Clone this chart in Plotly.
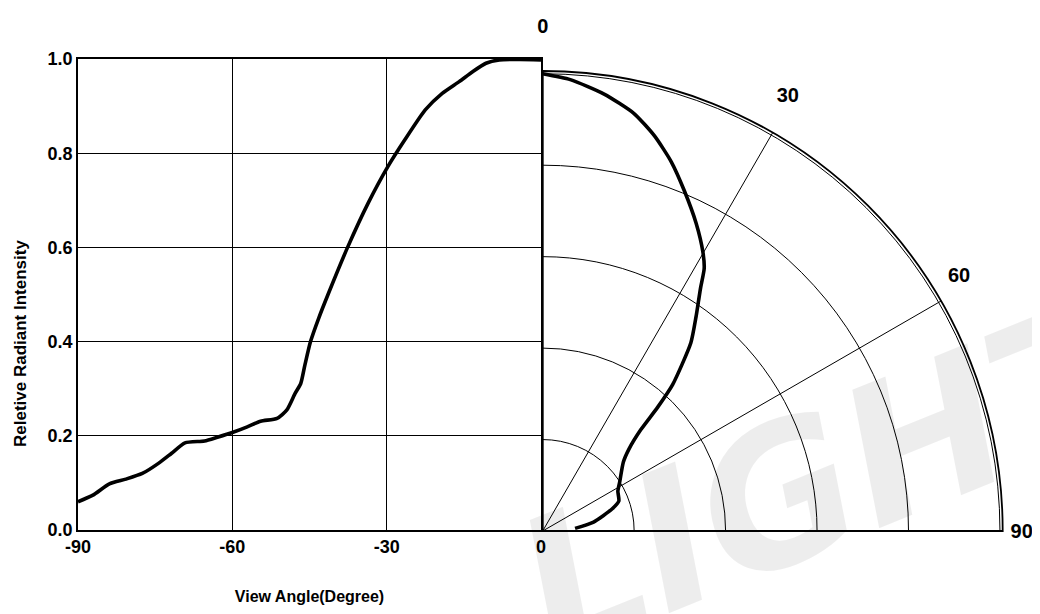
import plotly.graph_objects as go

# ---- data: left (Cartesian) half, view angle vs relative intensity ----
angle_left = [-90, -87.1, -83.9, -80.7, -77.5, -74.3, -71.8, -69.2, -65.4, -62.9,
              -60.0, -57.1, -54.5, -51.3, -49.4, -47.8, -46.7, -45.9, -44.8, -43.2,
              -41.4, -37.6, -33.6, -29.8, -26.5, -22.5, -19.2, -15.9, -13.3, -10.7,
              -8.1, -4.1, 0]
intensity_left = [0.060, 0.074, 0.098, 0.108, 0.120, 0.142, 0.163, 0.185, 0.189, 0.197,
                  0.207, 0.219, 0.231, 0.237, 0.255, 0.290, 0.311, 0.350, 0.400, 0.450,
                  0.500, 0.600, 0.694, 0.771, 0.828, 0.892, 0.927, 0.952, 0.973, 0.991,
                  0.998, 0.999, 0.998]

# ---- data: right (polar) half ----
theta_right = [0, 3.5, 8.0, 12.3, 15.8, 19.2, 22.6, 26.5, 29.9, 31.6, 33.0, 34.1,
               35.6, 38.2, 41.6, 42.9, 44.1, 46.5, 49.5, 57.4, 62.1, 68.5, 72.4,
               80.0, 85.4]
r_right = [1.0, 0.989, 0.965, 0.935, 0.898, 0.855, 0.806, 0.752, 0.703, 0.674, 0.634,
           0.608, 0.576, 0.524, 0.428, 0.369, 0.308, 0.260, 0.232, 0.200, 0.186,
           0.179, 0.159, 0.113, 0.071]

x_ticks = [-90, -60, -30, 0]
x_ticktext = ["-90", "-60", "-30", "0"]
y_ticks = [0, 0.2, 0.4, 0.6, 0.8, 1.0]
y_ticktext = ["0.0", "0.2", "0.4", "0.6", "0.8", "1.0"]
polar_ticks = [0, 30, 60, 90]
polar_ticktext = ["0", "30", "60", "90"]
radial_grid = [0.2, 0.4, 0.6, 0.8, 1.0]

# The page body has an 8px margin, so the figure is drawn 8px in from the corner.
OFF = 8
W, H = 1040 - OFF, 614 - OFF


def px(x):  # page x pixel -> paper fraction
    return (x - OFF) / W


def py(y):  # page y pixel -> paper fraction
    return 1 - (y - OFF) / H


FAM = "Liberation Sans, Arial, sans-serif"
BOLD = dict(family=FAM, size=18, color="black", weight="bold")
TITLE = dict(family=FAM, size=16, color="black", weight="bold")

# angular labels that sit further out from the rim get a blank second line
angular_labels = [t + "<br>&nbsp;" if t != "90" else t for t in polar_ticktext]

fig = go.Figure()
fig.add_trace(go.Scatter(
    x=angle_left, y=intensity_left, mode="lines",
    line=dict(color="black", width=3.6, shape="spline", smoothing=0.6),
    showlegend=False, hoverinfo="skip"))
fig.add_trace(go.Scatterpolar(
    r=r_right, theta=theta_right, mode="lines",
    line=dict(color="black", width=3.6, shape="spline", smoothing=0.6),
    showlegend=False, hoverinfo="skip"))

# geometry (page pixels)
cx, cy, R = 542.7, 531.0, 460.0

fig.update_layout(
    width=W, height=H, margin=dict(l=0, r=0, t=0, b=0, autoexpand=False),
    paper_bgcolor="white", plot_bgcolor="white", showlegend=False,
    xaxis=dict(domain=[px(78), px(541)], range=[-90, 0], tickvals=x_ticks,
               ticktext=x_ticktext, showgrid=True, gridcolor="black", gridwidth=1,
               showline=True, linecolor="black", linewidth=1.6, mirror=True,
               ticks="inside", ticklen=6, tickcolor="black", tickfont=BOLD,
               zeroline=False, fixedrange=True, automargin=False,
               title=dict(text="View Angle(Degree)", font=TITLE, standoff=34)),
    yaxis=dict(domain=[py(530), py(59)], range=[0, 1], tickvals=y_ticks,
               ticktext=y_ticktext, showgrid=True, gridcolor="black", gridwidth=1,
               showline=True, linecolor="black", linewidth=1.6, mirror=True,
               ticks="inside", ticklen=6, tickcolor="black", tickfont=BOLD,
               zeroline=False, fixedrange=True, automargin=False),
    polar=dict(
        domain=dict(x=[px(cx), px(cx + R)], y=[py(cy), py(cy - R)]),
        sector=[0, 90], bgcolor="rgba(0,0,0,0)",
        radialaxis=dict(range=[0, 1.006], tickvals=radial_grid, showticklabels=False,
                        ticks="", showline=False, gridcolor="black", gridwidth=1),
        angularaxis=dict(rotation=90, direction="clockwise", tickvals=polar_ticks,
                         ticktext=angular_labels, showline=True, linecolor="black",
                         linewidth=1.8, gridcolor="black", gridwidth=1,
                         ticks="outside", ticklen=3, tickcolor="rgba(0,0,0,0)",
                         tickfont=dict(family=FAM, size=20, color="black",
                                       weight="bold")),
    ),
    annotations=[
        dict(text="Reletive Radiant Intensity", xref="paper", yref="paper",
             x=px(20), y=py(344), textangle=-90, showarrow=False,
             font=dict(family=FAM, size=17, color="black", weight="bold"),
             xanchor="center", yanchor="middle"),
        dict(text="LIGHT", xref="paper", yref="paper", x=px(830), y=py(478),
             textangle=-22, showarrow=False,
             font=dict(family="DejaVu Sans, sans-serif", size=190,
                       color="rgba(0,0,0,0.07)", weight="bold", style="italic"),
             xanchor="center", yanchor="middle"),
    ],
)

fig.write_html("out.html")
